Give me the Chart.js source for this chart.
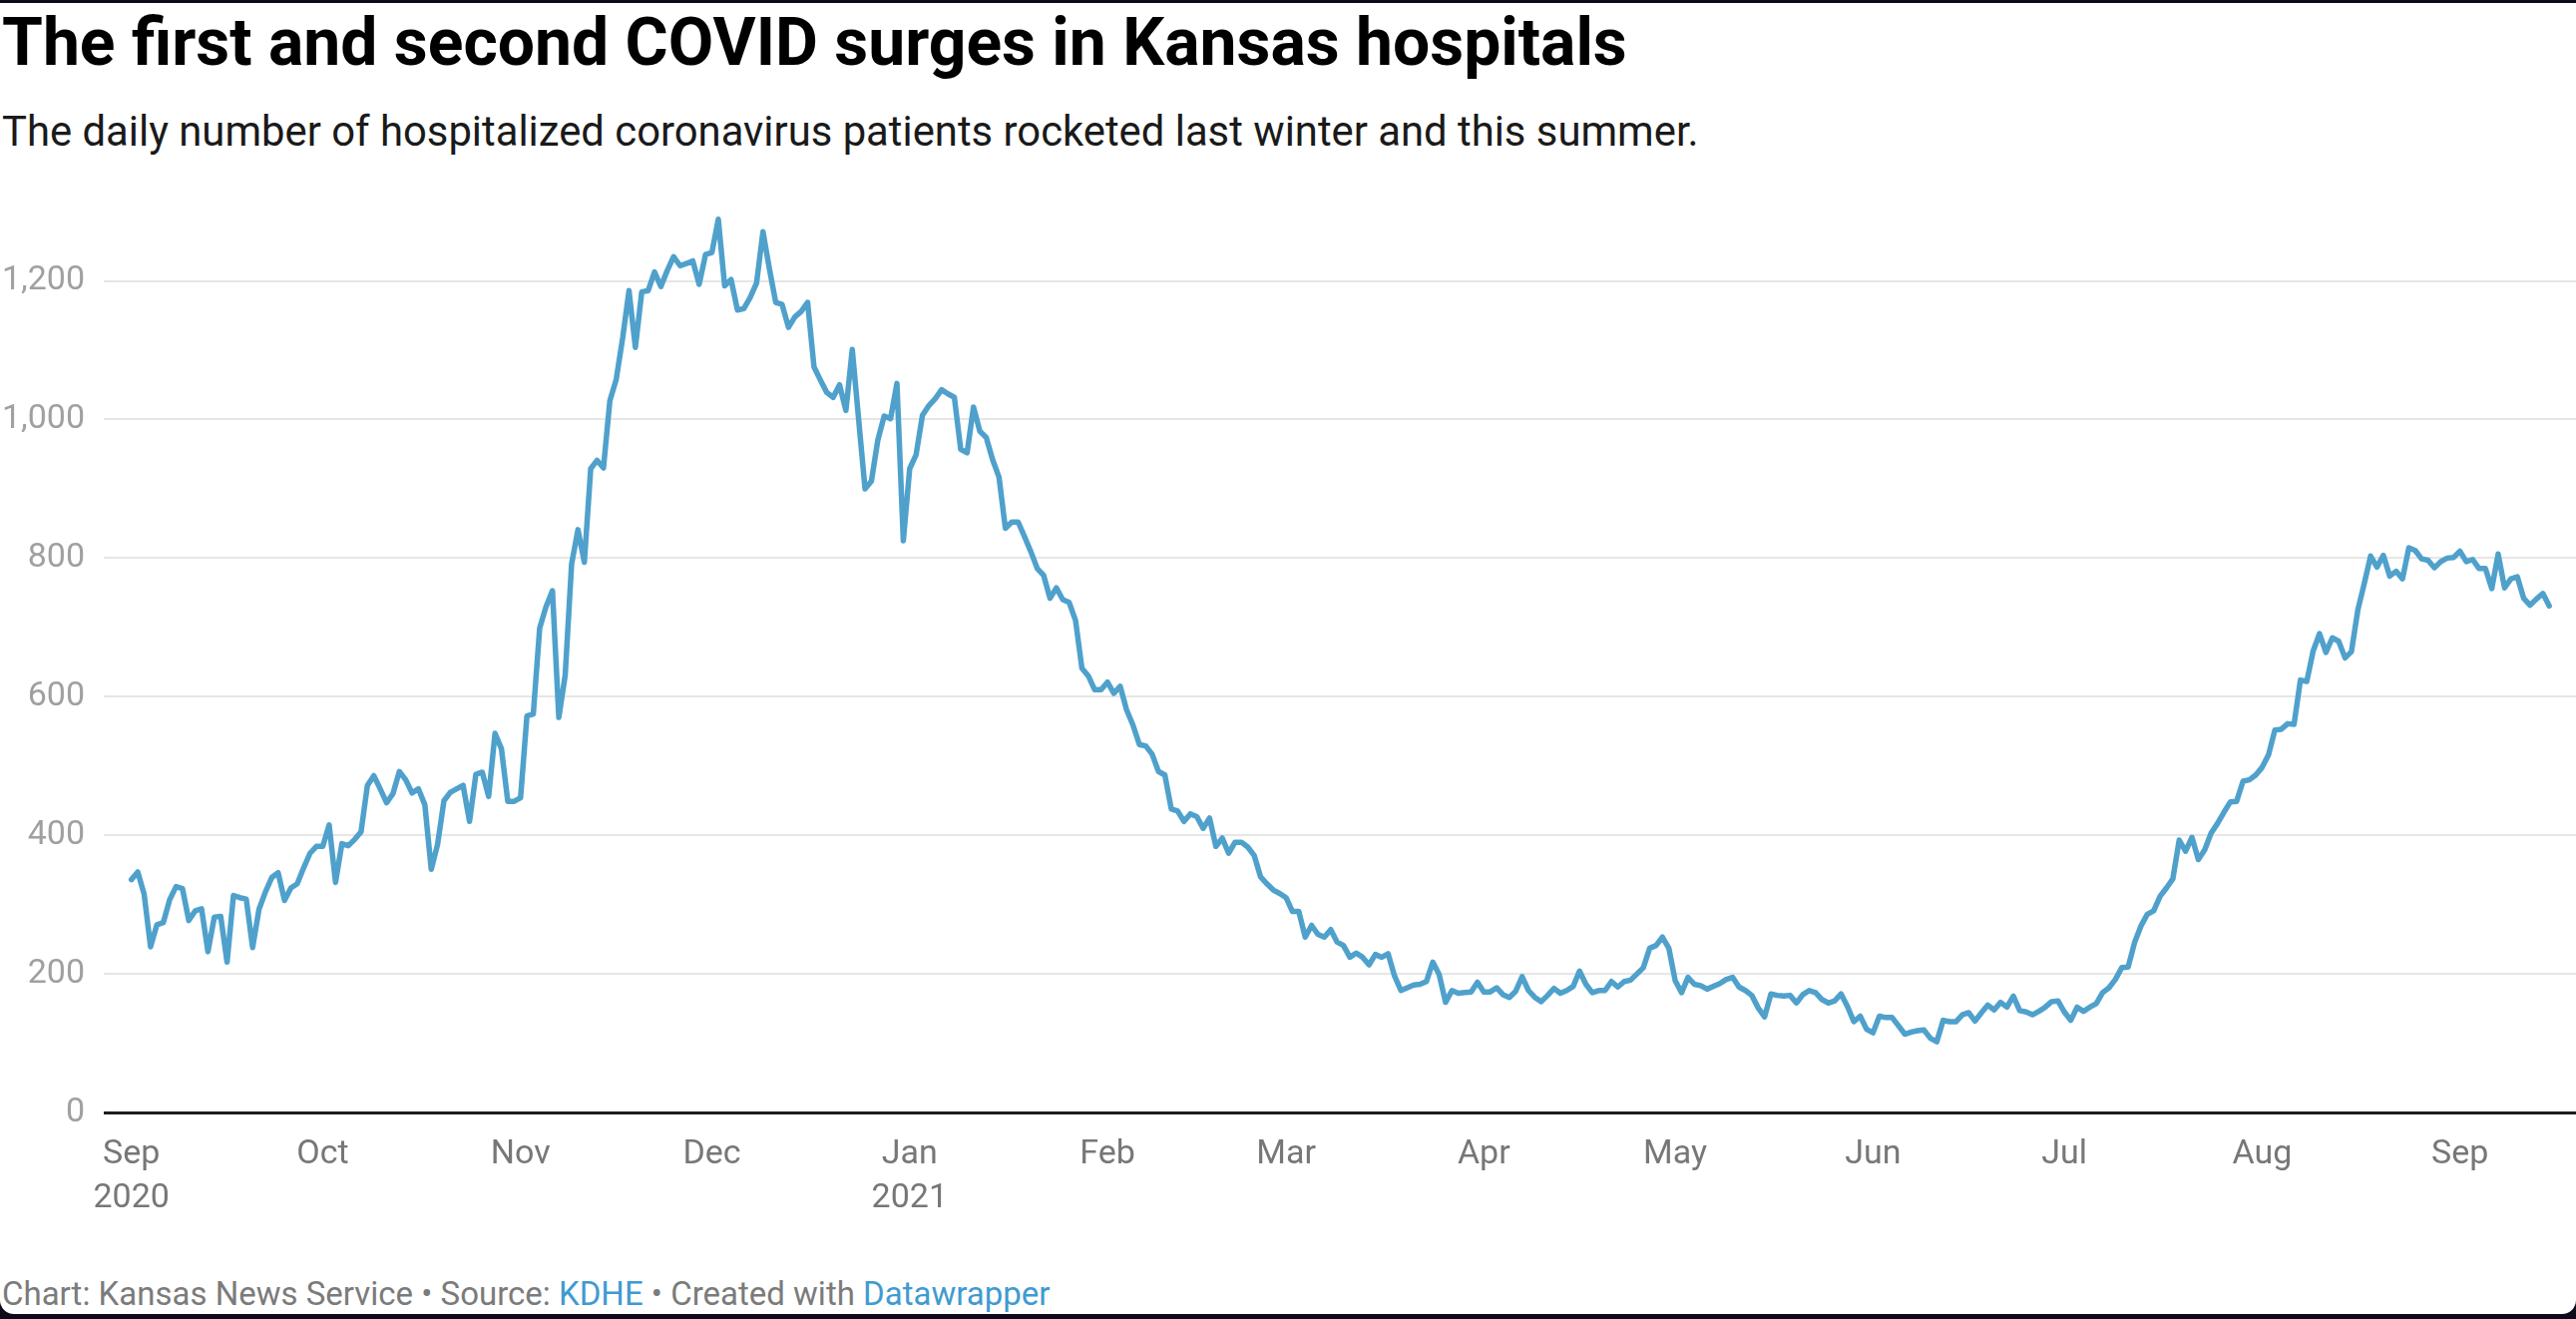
<!DOCTYPE html>
<html><head><meta charset="utf-8">
<script src="https://cdn.jsdelivr.net/npm/chart.js@4/dist/chart.umd.min.js"></script>
<style>
html,body{margin:0;padding:0;background:#0e0a1c;width:2582px;height:1322px;overflow:hidden;}
#card{position:absolute;left:0;top:3px;width:2582px;height:1314px;background:#fff;border-radius:0 0 14px 14px;}
.t{position:absolute;left:2px;white-space:nowrap;font-family:Roboto,"Noto Sans",sans-serif;line-height:1;}
#title{top:9.5px;font-size:66px;font-weight:700;color:#000;}
#sub{top:110.8px;font-size:41.8px;color:#1a1a1a;}
#foot{top:1280px;font-size:33px;color:#7b7b7b;}
#foot span.l{color:#3f9bd0;}
canvas{position:absolute;left:0;top:0;}
</style></head><body>
<div id="card"></div>
<div id="title" class="t">The first and second COVID surges in Kansas hospitals</div>
<div id="sub" class="t">The daily number of hospitalized coronavirus patients rocketed last winter and this summer.</div>
<div id="foot" class="t">Chart: Kansas News Service • Source: <span class="l">KDHE</span> • Created with <span class="l">Datawrapper</span></div>
<canvas id="c" width="2582" height="1250"></canvas>
<script>
// Daily hospitalized COVID patients, starting Sep 1, 2020
const sep2020 = [336,347,315,239,271,274,307,326,323,277,291,294,232,282,283,217,313,310,308,238,293,318,339,346,306,324,330,353,374,384];
const oct2020 = [384,415,332,388,385,394,405,472,486,467,447,460,492,480,461,467,444,351,387,450,462,467,472,420,488,491,456,547,525,449,449];
const nov2020 = [454,572,575,699,730,753,570,631,791,841,794,929,941,930,1027,1058,1117,1186,1104,1184,1186,1213,1192,1215,1235,1222,1225,1229,1195,1238];
const dec2020 = [1241,1289,1193,1202,1158,1160,1176,1197,1271,1218,1169,1166,1133,1148,1156,1169,1076,1057,1039,1032,1050,1013,1101,1000,900,911,970,1005,1001,1052,825];
const jan2021 = [929,949,1006,1020,1030,1043,1037,1032,957,952,1018,983,974,942,917,843,852,852,831,809,785,775,742,757,740,736,710,641,630,610,610];
const feb2021 = [621,605,615,581,559,531,529,517,492,487,438,435,420,431,427,410,425,384,396,374,390,390,383,371,340,330,321,316];
const mar2021 = [310,290,290,253,270,257,253,264,246,241,224,230,224,213,228,224,229,197,176,180,184,185,189,217,199,159,176,172,173,174,188];
const apr2021 = [174,174,180,170,166,175,196,176,166,160,169,179,172,176,182,204,185,173,176,176,189,181,189,191,200,209,237,241,253,237];
const may2021 = [190,173,195,185,183,178,182,186,192,195,181,176,169,151,138,171,169,168,169,158,170,176,173,163,158,161,171,153,131,139,120];
const jun2021 = [115,139,137,137,125,113,116,118,119,107,102,133,131,131,141,144,132,144,155,148,159,152,168,147,145,141,146,152,160,161];
const jul2021 = [145,133,152,146,152,157,173,180,192,209,210,245,269,286,291,312,324,337,393,377,397,365,379,403,417,433,448,449,478,480,487];
const aug2021 = [498,516,552,553,561,560,624,622,666,691,664,685,680,656,665,725,763,803,787,804,774,781,770,815,811,799,797,786,795,800,801];
const sep2021 = [810,795,798,785,785,756,806,757,770,773,742,732,741,749,731];

const monthLabels = ["Sep","Oct","Nov","Dec","Jan","Feb","Mar","Apr","May","Jun","Jul","Aug","Sep"];
const yearLabels  = ["2020","","","","2021","","","","","","","",""];
const monthYears  = [2020,2020,2020,2020,2021,2021,2021,2021,2021,2021,2021,2021,2021];
const monthNums   = [8,9,10,11,0,1,2,3,4,5,6,7,8];
const yTickValues = [0,200,400,600,800,1000,1200];

const values = [].concat(sep2020,oct2020,nov2020,dec2020,jan2021,feb2021,mar2021,apr2021,may2021,jun2021,jul2021,aug2021,sep2021);
const startMs = Date.UTC(2020,8,1);
const monthStarts = monthNums.map((m,i)=>Math.round((Date.UTC(monthYears[i],m,1)-startMs)/86400000));
const points = values.map((v,i)=>({x:i,y:v}));

new Chart(document.getElementById('c'),{
  type:'line',
  data:{datasets:[{data:points,borderColor:'#4fa1cc',borderWidth:5.5,pointRadius:0,tension:0,borderJoinStyle:'round',borderCapStyle:'round',fill:false}]},
  options:{
    responsive:false,animation:false,devicePixelRatio:1,
    layout:{padding:{top:212.1,right:0,bottom:35,left:0}},
    plugins:{legend:{display:false},tooltip:{enabled:false}},
    scales:{
      x:{type:'linear',min:-4.332,max:383.2,
        grid:{display:false},border:{display:false},
        afterBuildTicks:(s)=>{s.ticks=monthStarts.map(v=>({value:v}));},
        afterFit:(s)=>{s.height=100;},
        ticks:{autoSkip:false,maxRotation:0,minRotation:0,padding:12,color:'#777777',
          font:{family:'Roboto',size:34,lineHeight:1.3},
          callback:(v,i)=>yearLabels[i]?[monthLabels[i],yearLabels[i]]:monthLabels[i]}
      },
      y:{type:'linear',min:0,max:1300,
        border:{display:false},
        grid:{drawTicks:false,color:(c)=>c.tick&&c.tick.value===0?'#1d1d1d':'#e6e6e6',lineWidth:(c)=>c.tick&&c.tick.value===0?3:2},
        afterBuildTicks:(s)=>{s.ticks=yTickValues.map(v=>({value:v}));},
        afterFit:(s)=>{s.width=104;},
        ticks:{padding:19,color:'#a0a0a0',font:{family:'Roboto',size:34},
          callback:(v)=>v.toLocaleString('en-US')}
      }
    }
  }
});
</script>
</body></html>
